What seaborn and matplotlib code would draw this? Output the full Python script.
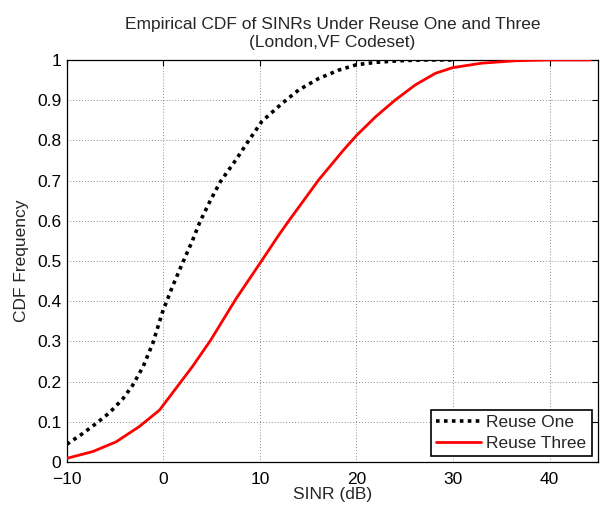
import numpy as np
import pandas as pd
import matplotlib
matplotlib.use("Agg")
import matplotlib.pyplot as plt
import seaborn as sns

# Reuse One (black dotted)
one_x = [-10.0, -8.4, -7.0, -5.6, -4.2, -3.2, -2.1, -1.1, -0.1, 0.9, 1.9, 3.0, 3.8, 4.9, 5.9,
         7.5, 8.8, 10.2, 12.3, 14.0, 16.1, 18.2, 20.0, 22.0, 24.4, 27.0, 30.0]
one_y = [0.044, 0.07, 0.095, 0.122, 0.157, 0.19, 0.237, 0.295, 0.372, 0.434, 0.49, 0.55, 0.598, 0.652, 0.697,
         0.751, 0.798, 0.847, 0.892, 0.925, 0.954, 0.975, 0.988, 0.994, 0.998, 1.0, 1.0]

# Reuse Three (red solid)
three_x = [-10.0, -7.3, -4.9, -2.5, -0.4, 1.3, 3.0, 4.9, 7.5, 10.0, 12.0, 13.0, 16.1, 18.7,
           20.0, 22.0, 24.0, 26.1, 28.2, 30.0, 33.0, 36.5, 40.0, 44.2]
three_y = [0.009, 0.026, 0.05, 0.088, 0.129, 0.183, 0.237, 0.303, 0.405, 0.494, 0.566, 0.6, 0.702, 0.777,
           0.812, 0.859, 0.90, 0.938, 0.967, 0.981, 0.992, 0.998, 1.0, 1.0]

x_ticks = [-10, 0, 10, 20, 30, 40]
x_labels = ["\u221210", "0", "10", "20", "30", "40"]
y_ticks = [0, 0.1, 0.2, 0.3, 0.4, 0.5, 0.6, 0.7, 0.8, 0.9, 1]
y_labels = ["0", "0.1", "0.2", "0.3", "0.4", "0.5", "0.6", "0.7", "0.8", "0.9", "1"]

sns.set_style("white")
plt.rcParams["font.family"] = ["Liberation Sans", "DejaVu Sans"]

fig = plt.figure(figsize=(6.02, 5.08), dpi=100)
ax = fig.add_axes([0.111, 0.0906, 0.882, 0.7914])

df1 = pd.DataFrame({"x": one_x, "y": one_y})
df3 = pd.DataFrame({"x": three_x, "y": three_y})
sns.lineplot(data=df1, x="x", y="y", ax=ax, color="black", linewidth=2.6,
             linestyle=(0, (1, 1.2)), label="Reuse One", zorder=3)
sns.lineplot(data=df3, x="x", y="y", ax=ax, color="#ff0000", linewidth=2.0,
             label="Reuse Three", zorder=4)

ax.set_xlim(-10, 45)
ax.set_ylim(0, 1)
ax.set_xticks(x_ticks)
ax.set_xticklabels(x_labels)
ax.set_yticks(y_ticks)
ax.set_yticklabels(y_labels)
ax.tick_params(direction="in", length=4, width=0.8, top=True, right=True,
               labelsize=12.5, colors="black")
ax.tick_params(axis="x", pad=7)
ax.tick_params(axis="y", pad=4)
ax.grid(True, color="#666666", linestyle=(0, (1, 2.5)), linewidth=0.6)
for s in ax.spines.values():
    s.set_visible(True)
    s.set_color("black")
    s.set_linewidth(0.9)

ax.set_xlabel("SINR (dB)", fontsize=12.5, labelpad=0)
ax.set_ylabel("CDF Frequency", fontsize=12.5, labelpad=6)
ax.set_title("Empirical CDF of SINRs Under Reuse One and Three\n(London,VF Codeset)",
             fontsize=12.5, pad=9, linespacing=1.3)

leg = ax.legend(loc="lower right", fontsize=12.5, frameon=True, fancybox=False,
                edgecolor="black", framealpha=1, handlelength=2.6,
                borderpad=0.3, labelspacing=0.3, handletextpad=0.3,
                borderaxespad=0.35)
leg.get_frame().set_linewidth(1.2)

fig.savefig("out.png", dpi=100)
